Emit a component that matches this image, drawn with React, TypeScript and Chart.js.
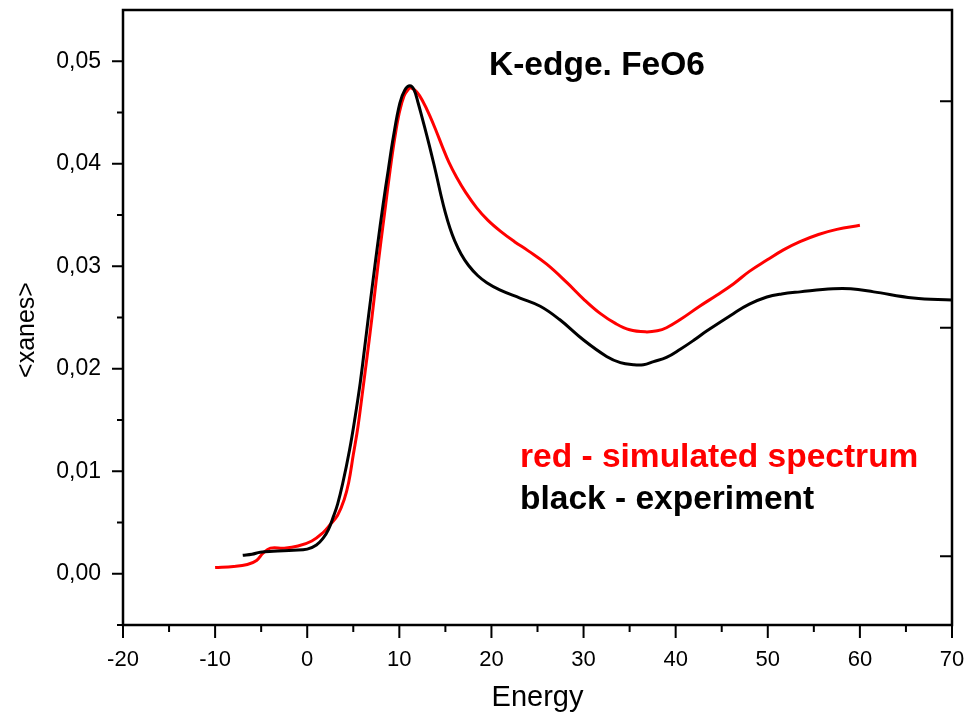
import React, { useEffect, useRef } from "react";
import { Chart, registerables } from "chart.js";

Chart.register(...registerables);

// Simulated spectrum (red)
const SIM_ENERGY = [
  -10, -8, -6.5, -5.5, -4.8, -4.0, -2.5, -1, 0.5, 1.7, 2.5, 3.3, 4.0, 4.5, 5.0, 5.5, 6.0, 6.5, 7.0,
  7.5, 8.0, 8.5, 9.0, 9.5, 10.0, 10.5, 11.0, 11.25, 11.9, 12.6, 13.3, 14.0, 14.7, 15.4, 16.2, 17.2,
  18.4, 19.6, 21.0, 22.5, 24.0, 26.0, 28.2, 30.0, 31.8, 33.5, 35.0, 36.7, 38.0, 39.0, 40.5, 42.6,
  44.5, 46.3, 48.0, 49.9, 51.7, 53.5, 55.5, 57.5, 60.0,
];
const SIM_XANES = [
  0.0006, 0.0007, 0.0009, 0.0013, 0.002, 0.0025, 0.0025, 0.0027, 0.0032, 0.004, 0.0048, 0.0057,
  0.0072, 0.0089, 0.0116, 0.0143, 0.0177, 0.0212, 0.0248, 0.0287, 0.0324, 0.0359, 0.0394, 0.0425,
  0.045, 0.0466, 0.0473, 0.0474, 0.047, 0.046, 0.0447, 0.0432, 0.0416, 0.0401, 0.0387, 0.0372,
  0.0357, 0.0345, 0.0334, 0.0324, 0.0315, 0.0302, 0.0284, 0.0268, 0.0254, 0.0244, 0.0238, 0.0236,
  0.0237, 0.024, 0.0248, 0.0261, 0.0272, 0.0283, 0.0295, 0.0306, 0.0316, 0.0324, 0.0331, 0.0336,
  0.034,
];

// Experimental spectrum (black)
const EXP_ENERGY = [
  -7.0, -6.0, -5.1, -3.7, -1.5, 0.0, 1.0, 1.75, 2.3, 2.85, 3.3, 3.85, 4.6, 5.2, 5.75, 6.2, 6.65,
  7.1, 7.6, 8.25, 8.8, 9.35, 10.05, 10.6, 11.15, 11.6, 12.05, 12.5, 13.0, 13.5, 14.0, 14.5, 15.0,
  15.5, 16.0, 16.7, 17.5, 18.5, 19.5, 20.9, 23.1, 25.3, 27.4, 30.0, 32.5, 34.0, 35.4, 36.5, 37.6,
  39.0, 40.5, 42.0, 43.4, 46.3, 48.0, 49.9, 51.5, 53.5, 57.1, 59.0, 61.5, 65.8, 70.0,
];
const EXP_XANES = [
  0.0018, 0.0019, 0.0021, 0.0022, 0.0023, 0.0024, 0.0028, 0.0035, 0.0043, 0.0056, 0.0068, 0.0088,
  0.0121, 0.0153, 0.0186, 0.0218, 0.0251, 0.0283, 0.0318, 0.0361, 0.0394, 0.0426, 0.0459, 0.0472,
  0.0476, 0.0472, 0.0459, 0.0444, 0.0427, 0.0409, 0.039, 0.037, 0.0352, 0.0337, 0.0325, 0.0312,
  0.0301, 0.0291, 0.0284, 0.0277, 0.0269, 0.0261, 0.0248, 0.0228, 0.0212, 0.0206, 0.0204, 0.0204,
  0.0207, 0.0211, 0.0219, 0.0228, 0.0237, 0.0254, 0.0263, 0.027, 0.0273, 0.0275, 0.0278, 0.0278,
  0.0275, 0.0269, 0.0267,
];

// Axis ticks
const X_MAJOR = [-20, -10, 0, 10, 20, 30, 40, 50, 60, 70];
const X_MINOR = [-15, -5, 5, 15, 25, 35, 45, 55, 65];
const Y_MAJOR = [0, 0.01, 0.02, 0.03, 0.04, 0.05];
const Y_MINOR = [-0.005, 0.005, 0.015, 0.025, 0.035, 0.045];
const RIGHT_TICKS = [0.0017, 0.024, 0.0461];

const TITLE = "K-edge. FeO6";
const NOTE_SIM = "red - simulated spectrum";
const NOTE_EXP = "black - experiment";
const Y_TITLE = "<xanes>";

const FONT = "'Liberation Sans', Arial, Helvetica, sans-serif";

const framePlugin = {
  id: "frameAndNotes",
  afterDraw(chart: any) {
    const { ctx, chartArea } = chart;
    const xs = chart.scales.x;
    const ys = chart.scales.y;
    const { left, right, top, bottom } = chartArea;
    ctx.save();
    ctx.strokeStyle = "#000";
    ctx.lineWidth = 2.5;
    ctx.strokeRect(left, top, right - left, bottom - top);
    ctx.lineWidth = 2;
    ctx.beginPath();
    X_MAJOR.forEach((v) => {
      const p = xs.getPixelForValue(v);
      ctx.moveTo(p, bottom);
      ctx.lineTo(p, bottom + 13);
    });
    X_MINOR.forEach((v) => {
      const p = xs.getPixelForValue(v);
      ctx.moveTo(p, bottom);
      ctx.lineTo(p, bottom + 7);
    });
    Y_MAJOR.forEach((v) => {
      const p = ys.getPixelForValue(v);
      ctx.moveTo(left, p);
      ctx.lineTo(left - 11, p);
    });
    Y_MINOR.forEach((v) => {
      const p = ys.getPixelForValue(v);
      ctx.moveTo(left, p);
      ctx.lineTo(left - 6, p);
    });
    RIGHT_TICKS.forEach((v) => {
      const p = ys.getPixelForValue(v);
      ctx.moveTo(right, p);
      ctx.lineTo(right - 12, p);
    });
    ctx.stroke();

    // Vertical axis title
    ctx.save();
    ctx.translate(27, top + 320);
    ctx.rotate(-Math.PI / 2);
    ctx.textAlign = "center";
    ctx.textBaseline = "middle";
    ctx.font = `25px ${FONT}`;
    ctx.fillStyle = "#000";
    ctx.fillText(Y_TITLE, 0, 0);
    ctx.restore();

    ctx.textAlign = "left";
    ctx.textBaseline = "alphabetic";
    ctx.font = `bold 33.5px ${FONT}`;
    ctx.fillStyle = "#000";
    ctx.fillText(TITLE, left + 366, top + 65);
    ctx.font = `bold 33.5px ${FONT}`;
    ctx.fillStyle = "#ff0000";
    ctx.fillText(NOTE_SIM, left + 397, top + 457);
    ctx.fillStyle = "#000";
    ctx.fillText(NOTE_EXP, left + 397, top + 499);
    ctx.restore();
  },
};

const noEdgePadding = (s: any) => {
  s.paddingTop = 0;
  s.paddingBottom = 0;
  s.paddingLeft = 0;
  s.paddingRight = 0;
};

export default function App() {
  const ref = useRef<HTMLCanvasElement | null>(null);

  useEffect(() => {
    if (!ref.current) return;
    const chart = new Chart(ref.current, {
      type: "line",
      data: {
        datasets: [
          {
            label: "experiment",
            data: EXP_ENERGY.map((e, i) => ({ x: e, y: EXP_XANES[i] })),
            borderColor: "#000000",
            borderWidth: 3,
            pointRadius: 0,
            tension: 0.4,
            fill: false,
          },
          {
            label: "simulated spectrum",
            data: SIM_ENERGY.map((e, i) => ({ x: e, y: SIM_XANES[i] })),
            borderColor: "#ff0000",
            borderWidth: 3,
            pointRadius: 0,
            tension: 0.4,
            fill: false,
          },
        ],
      },
      options: {
        animation: false,
        responsive: false,
        maintainAspectRatio: false,
        layout: { padding: { top: 10, right: 19, left: 0, bottom: 0 } },
        plugins: {
          legend: { display: false },
          tooltip: { enabled: false },
        },
        scales: {
          x: {
            type: "linear",
            min: -20,
            max: 70,
            grid: { display: false, drawTicks: false },
            border: { display: false },
            afterBuildTicks: (s: any) => {
              s.ticks = X_MAJOR.map((v) => ({ value: v }));
            },
            afterFit: (s: any) => {
              s.height = 95;
              noEdgePadding(s);
            },
            ticks: {
              color: "#000",
              padding: 22,
              maxRotation: 0,
              autoSkip: false,
              font: { family: FONT, size: 22 },
              callback: (v: any) => String(v),
            },
            title: {
              display: true,
              text: "Energy",
              color: "#000",
              font: { family: FONT, size: 29 },
              padding: { top: 0, bottom: 5 },
            },
          },
          y: {
            type: "linear",
            min: -0.005,
            max: 0.055,
            grid: { display: false, drawTicks: false },
            border: { display: false },
            afterBuildTicks: (s: any) => {
              s.ticks = Y_MAJOR.map((v) => ({ value: v }));
            },
            afterFit: (s: any) => {
              s.width = 123;
              noEdgePadding(s);
            },
            ticks: {
              color: "#000",
              padding: 22,
              autoSkip: false,
              font: { family: FONT, size: 23 },
              callback: (v: any) => Number(v).toFixed(2).replace(".", ","),
            },
          },
        },
      },
      plugins: [framePlugin],
    });
    return () => chart.destroy();
  }, []);

  return (
    <div style={{ position: "fixed", left: 0, top: 0, width: 971, height: 720, background: "#fff" }}>
      <canvas ref={ref} width={971} height={720} />
    </div>
  );
}
